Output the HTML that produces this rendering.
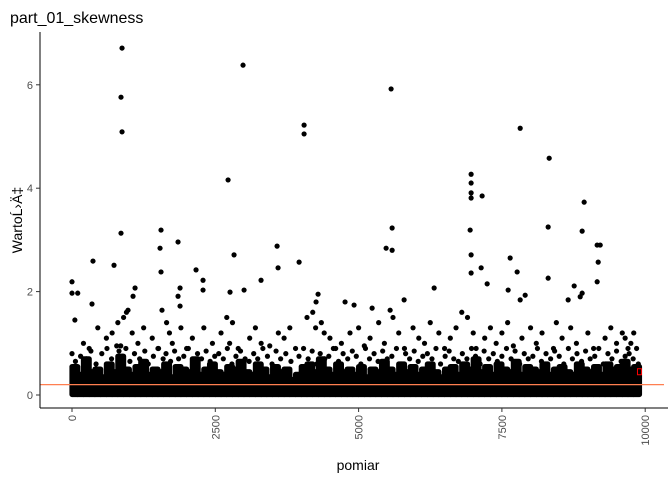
<!DOCTYPE html>
<html><head><meta charset="utf-8"><style>
body{margin:0;background:#fff;}
svg{display:block;font-family:"Liberation Sans",sans-serif;}
</style></head><body>
<svg id="chart" width="672" height="480">
<text x="10" y="23" font-size="16" fill="#000">part_01_skewness</text>
<text transform="translate(22,220) rotate(-90)" text-anchor="middle" font-size="14" fill="#000">WartoĹ›Ä‡</text>
<text x="358" y="470" text-anchor="middle" font-size="14" fill="#000">pomiar</text>
<g id="band"></g>
<g id="pts"></g>
<g id="axes"></g>
</svg>
<script>
const envelope=[0.55,0.4,0.7,0.45,0.5,0.35,0.6,0.45,0.75,0.5,0.4,0.55,0.65,0.4,0.5,0.45,0.6,0.35,0.55,0.5,0.45,0.7,0.4,0.5,0.6,0.45,0.4,0.55,0.5,0.65,0.45,0.4,0.6,0.5,0.35,0.55,0.45,0.5,0.3,0.4,0.55,0.6,0.45,0.7,0.5,0.4,0.6,0.45,0.5,0.4,0.55,0.35,0.5,0.45,0.65,0.5,0.4,0.6,0.45,0.55,0.4,0.5,0.6,0.45,0.35,0.5,0.55,0.4,0.6,0.5,0.7,0.45,0.55,0.4,0.6,0.5,0.45,0.65,0.4,0.55,0.5,0.45,0.6,0.4,0.5,0.55,0.45,0.4,0.6,0.5,0.45,0.55,0.4,0.6,0.5,0.55,0.65,0.5,0.55];
const binWidth=100;
const xMaxData=9900;
const ptsX=[873,855,873,855,2984,2723,5567,4049,4049,7819,8325,6963,6963,6963,6963,7155,5585,5480,5585,8935,8900,8307,1553,1850,1536,2827,3578,3595,3962,0,0,100,50,366,733,1553,2164,2286,2286,1885,1850,1885,1570,1100,1065,977,3002,2757,3298,349,6946,6963,6963,7138,7243,7644,7766,7819,7609,7906,8307,8656,8761,8866,9162,9180,9162,9215,8900,6318,5794,4293,4258,4764,4921,5236,5550,
200,300,450,600,700,800,850,900,950,1050,1150,1250,1400,1500,1650,1700,1750,1900,2000,2100,2300,2450,2600,2700,2750,2800,2900,3100,3200,3300,3450,3600,3700,3800,3900,4100,4200,4250,4350,4400,4500,4600,4700,4850,5000,5100,5200,5350,5450,5600,5700,5800,5950,6050,6150,6250,6400,6500,6600,6700,6800,6900,7000,7050,7200,7300,7400,7500,7600,7700,7850,8000,8100,8200,8400,8450,8550,8700,8800,9000,9100,9300,9400,9500,9600,9650,9700,9750,9800,
0,60,150,250,330,420,520,610,690,780,820,880,940,1010,1090,1180,1270,1330,1420,1510,1590,1640,1720,1790,1860,1950,2030,2120,2190,2260,2340,2410,2490,2560,2640,2710,2790,2860,2940,3020,3090,3170,3240,3330,3410,3490,3560,3640,3730,3820,3960,4040,4120,4190,4270,4330,4410,4480,4560,4650,4730,4810,4890,4960,5040,5120,5190,5270,5340,5420,5500,5580,5660,5740,5820,5890,5970,6040,6120,6200,6280,6350,6430,6510,6580,6660,6740,6810,6890,6970,7040,7120,7190,7270,7350,7420,7500,7580,7660,7730,7810,7890,7960,8040,8120,8190,8270,8350,8420,8500,8580,8660,8730,8810,8890,8960,9040,9120,9190,9270,9350,9420,9500,9580,9650,9720,9790,9850,9880];
const ptsY=[6.71,5.76,5.09,3.13,6.38,4.16,5.92,5.22,5.05,5.16,4.58,4.27,4.10,3.91,3.81,3.85,3.23,2.84,2.80,3.73,3.17,3.25,3.19,2.96,2.84,2.71,2.88,2.46,2.57,2.19,1.97,1.97,1.45,2.59,2.51,2.38,2.42,2.22,2.03,2.07,1.91,1.72,1.64,2.07,1.91,1.64,2.03,1.99,2.22,1.76,3.19,2.71,2.36,2.46,2.15,2.65,2.38,1.84,2.03,1.93,2.26,1.84,2.11,1.90,2.19,2.57,2.90,2.90,1.97,2.07,1.84,1.95,1.80,1.80,1.74,1.68,1.64,
1.0,0.9,1.3,1.1,1.2,1.4,0.95,1.5,1.6,1.2,1.0,1.3,1.1,0.9,1.4,1.2,1.0,1.3,0.9,1.1,1.3,1.0,1.2,1.5,1.0,1.4,0.9,1.1,1.3,1.0,0.95,1.2,1.1,1.3,0.9,1.5,1.6,1.3,1.4,1.2,1.1,0.9,1.0,1.2,1.3,0.95,1.1,1.4,1.0,1.5,1.2,0.9,1.3,1.1,1.0,1.4,1.2,0.9,1.1,1.3,1.6,1.5,1.2,0.9,1.1,1.3,1.0,1.2,1.4,0.95,1.1,1.3,1.0,1.2,0.9,1.4,1.1,1.3,1.0,1.2,0.9,1.1,1.3,1.0,1.2,1.1,0.9,1.0,1.2,
0.8,0.65,0.75,0.7,0.85,0.6,0.8,0.9,0.7,0.95,0.85,0.75,0.9,0.65,0.8,0.7,0.85,0.6,0.75,0.9,0.7,0.8,0.65,0.85,0.7,0.75,0.9,0.6,0.8,0.7,0.85,0.65,0.75,0.8,0.7,0.9,0.6,0.75,0.85,0.7,0.65,0.8,0.7,0.9,0.75,0.6,0.85,0.7,0.8,0.65,0.75,0.9,0.7,0.85,0.6,0.8,0.7,0.75,0.9,0.65,0.8,0.7,0.85,0.75,0.6,0.9,0.7,0.8,0.65,0.85,0.7,0.75,0.9,0.6,0.8,0.7,0.85,0.65,0.75,0.8,0.7,0.9,0.6,0.75,0.85,0.7,0.65,0.8,0.7,0.9,0.75,0.6,0.85,0.7,0.8,0.65,0.75,0.9,0.7,0.85,0.6,0.8,0.7,0.75,0.9,0.65,0.8,0.7,0.85,0.75,0.6,0.9,0.7,0.8,0.65,0.85,0.7,0.75,0.9,0.6,0.8,0.7,0.85,0.65,0.75,0.8,0.7,0.9,0.6,0.75];
const xTicks=[0,2500,5000,7500,10000];
const yTicks=[0,2,4,6];
const hlineValue=0.2;
const markerX=9900, markerY=0.45;
const NS="http://www.w3.org/2000/svg";
function X(v){return 72+v*0.05732;}
function Y(v){return 395-v*51.7;}
function mk(tag,attrs,parent){const e=document.createElementNS(NS,tag);for(const k in attrs)e.setAttribute(k,attrs[k]);parent.appendChild(e);return e;}
const band=document.getElementById('band'),pts=document.getElementById('pts'),axes=document.getElementById('axes');
envelope.forEach((v,i)=>{
  const x0=X(i*binWidth),x1=X(Math.min((i+1)*binWidth,xMaxData));
  const r=mk('rect',{x:x0-2.6,y:Y(v)-2.6,width:x1-x0+5.2,height:Y(-0.04)-Y(v)+2.6,rx:2.6,fill:'#000'},band);
  
  
});
ptsX.forEach((xv,i)=>{
  const c=mk('circle',{cx:X(xv),cy:Y(ptsY[i]),r:2.6,fill:'#000'},pts);
  
  
});
const hl=mk('line',{x1:40,x2:664,y1:Y(hlineValue),y2:Y(hlineValue),stroke:'#ff7f50','stroke-width':1.2},axes);


const mkr=mk('rect',{x:X(markerX)-2,y:Y(markerY)-3,width:4,height:6,fill:'none',stroke:'#ff0000','stroke-width':1},axes);


const ya=mk('line',{x1:40,x2:40,y1:32,y2:408,stroke:'#000','stroke-width':1},axes);


const xa=mk('line',{x1:40,x2:668,y1:408,y2:408,stroke:'#000','stroke-width':1},axes);


yTicks.forEach(t=>{
  const l=mk('line',{x1:36,x2:40,y1:Y(t),y2:Y(t),stroke:'#333'},axes);
  
  
  const tx=mk('text',{x:33,y:Y(t)+4,'text-anchor':'end','font-size':11,fill:'#4d4d4d'},axes);
  tx.textContent=t;
  
  
});
xTicks.forEach(t=>{
  const l=mk('line',{x1:X(t),x2:X(t),y1:408,y2:412,stroke:'#333'},axes);
  
  
  const tx=mk('text',{transform:`translate(${X(t)+4},415) rotate(-90)`,'text-anchor':'end','font-size':11,fill:'#4d4d4d'},axes);
  tx.textContent=t;
  
  
});
</script>
</body></html>
